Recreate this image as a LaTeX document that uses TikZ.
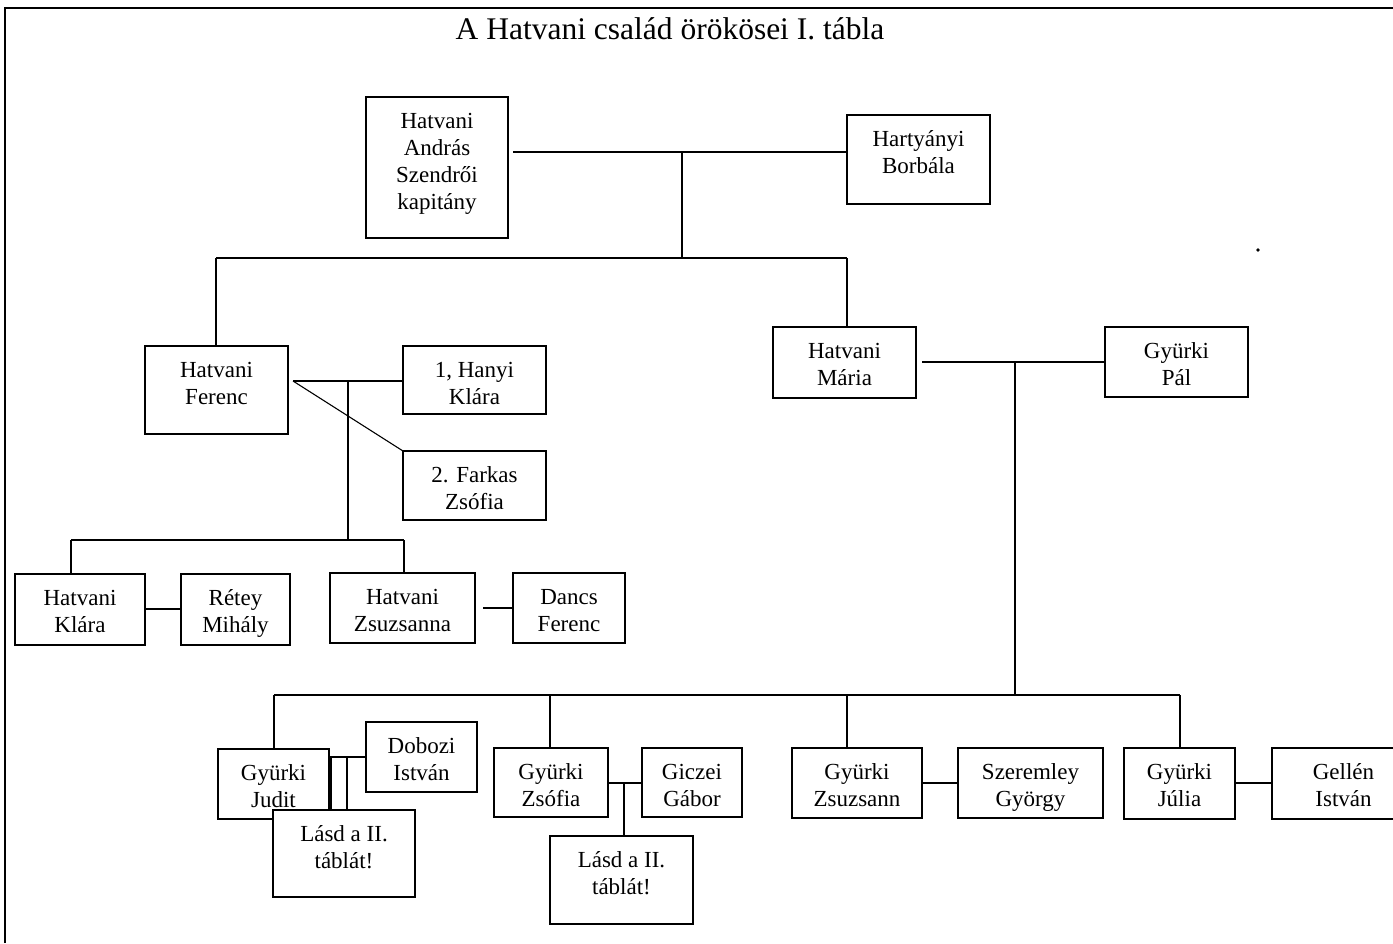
\documentclass[tikz,border=0pt]{standalone}
\usepackage{fontspec}
\setmainfont{Liberation Serif}
\usetikzlibrary{calc}

% one family-tree cell: name, left, top, right, bottom, text (text hangs from the top)
\newcommand\famcell[6]{%
  \node[cell, anchor=north west] (#1) at (#2,#3)
    {\parbox[c][\dimexpr#5pt-#3pt\relax][t]{\dimexpr#4pt-#2pt\relax}%
      {\centering\rule{0pt}{31pt}#6}};}

\begin{document}
\begin{tikzpicture}[x=1pt, y=-1pt,
  cell/.style={draw, fill=white, line width=1.3pt, inner sep=0pt, outer sep=0pt,
    font=\fontsize{23}{27}\selectfont},
  tie/.style={line width=1.1pt},
  frame/.style={line width=1.6pt}]
\useasboundingbox (0,0) rectangle (1393,943);

% outer frame (left and top edges)
\draw[frame] (5,943) -- (5,8) -- (1393,8);

\node[font=\fontsize{31.5}{36}\selectfont, anchor=base, inner sep=0pt] (title) at (670,39) {A Hatvani család örökösei I. tábla};

% first generation
\famcell{andras}{366}{97}{508}{238}{Hatvani\\András\\Szendrői\\kapitány}
\famcell{borbala}{847}{115}{990}{204}{Hartyányi\\Borbála}

% children of András and Borbála
\famcell{ferenc}{145}{346}{288}{434}{Hatvani\\Ferenc}
\famcell{hanyi}{403}{346}{546}{414}{1, Hanyi\\Klára}
\famcell{farkas}{403}{451}{546}{520}{2. Farkas\\Zsófia}
\famcell{maria}{773}{327}{916}{398}{Hatvani\\Mária}
\famcell{pal}{1105}{327}{1248}{397}{Gyürki\\Pál}

% children of Ferenc
\famcell{klara}{15}{574}{145}{645}{Hatvani\\Klára}
\famcell{retey}{181}{574}{290}{645}{Rétey\\Mihály}
\famcell{zsuzsanna}{330}{573}{475}{643}{Hatvani\\Zsuzsanna}
\famcell{dancs}{513}{573}{625}{643}{Dancs\\Ferenc}

% children of Mária and Pál
\famcell{judit}{218}{749}{329}{819}{Gyürki\\Judit}
\famcell{dobozi}{366}{722}{477}{792}{Dobozi\\István}
\famcell{lasdA}{273}{810}{415}{897}{Lásd a II.\\táblát!}
\famcell{zsofia}{494}{748}{608}{817}{Gyürki\\Zsófia}
\famcell{giczei}{642}{748}{742}{817}{Giczei\\Gábor}
\famcell{lasdB}{550}{836}{693}{924}{Lásd a II.\\táblát!}
\famcell{zsuzsann}{792}{748}{922}{818}{Gyürki\\Zsuzsann}
\famcell{szeremley}{958}{748}{1103}{818}{Szeremley\\György}
\famcell{julia}{1124}{748}{1235}{819}{Gyürki\\Júlia}
\famcell{gellen}{1272}{748}{1415}{819}{Gellén\\István}

% junction points
\coordinate (aS) at (513,152);
\coordinate (aM) at (682,152);
\coordinate (g1) at (682,258);
\coordinate (g1L) at (216,258);
\coordinate (g1R) at (847,258);
\coordinate (fS) at (293,381);
\coordinate (fM) at (348,381);
\coordinate (g2) at (348,540);
\coordinate (g2L) at (71,540);
\coordinate (g2R) at (404,540);
\coordinate (zS) at (483,608);
\coordinate (mS) at (922,362);
\coordinate (mM) at (1015,362);
\coordinate (g3) at (1015,695);
\coordinate (g3L) at (274,695);
\coordinate (g3a) at (550,695);
\coordinate (g3b) at (847,695);
\coordinate (g3R) at (1180,695);

% marriages and descent lines
\draw[tie] (aS) -- (borbala.west |- aS);
\draw[tie] (aM) -- (g1);
\draw[tie] (g1L) -- (g1R);
\draw[tie] (g1L) -- (ferenc.north -| g1L);
\draw[tie] (g1R) -- (maria.north -| g1R);

\draw[tie] (fS) -- (hanyi.west |- fS);
\draw[tie] (fS) -- (farkas.north west);
\draw[tie] (fM) -- (g2);
\draw[tie] (g2L) -- (g2R);
\draw[tie] (g2L) -- (klara.north -| g2L);
\draw[tie] (g2R) -- (zsuzsanna.north -| g2R);
\draw[tie] (klara.east |- 0,609) -- (retey.west |- 0,609);
\draw[tie] (zS) -- (dancs.west |- zS);

\draw[tie] (mS) -- (pal.west |- mS);
\draw[tie] (mM) -- (g3);
\draw[tie] (g3L) -- (g3R);
\draw[tie] (g3L) -- (judit.north -| g3L);
\draw[tie] (g3a) -- (zsofia.north -| g3a);
\draw[tie] (g3b) -- (zsuzsann.north -| g3b);
\draw[tie] (g3R) -- (julia.north -| g3R);

\draw[tie] (judit.east |- 0,757) -- (dobozi.west |- 0,757);
\draw[tie] (331,757) -- (lasdA.north -| 331,0);
\draw[tie] (347,757) -- (lasdA.north -| 347,0);
\draw[tie] (zsofia.east |- 0,783) -- (giczei.west |- 0,783);
\draw[tie] (624,783) -- (lasdB.north -| 624,0);
\draw[tie] (zsuzsann.east |- 0,783) -- (szeremley.west |- 0,783);
\draw[tie] (julia.east |- 0,783) -- (gellen.west |- 0,783);

% stray speck
\fill (1258,250) circle (1.8pt);
\end{tikzpicture}
\end{document}
